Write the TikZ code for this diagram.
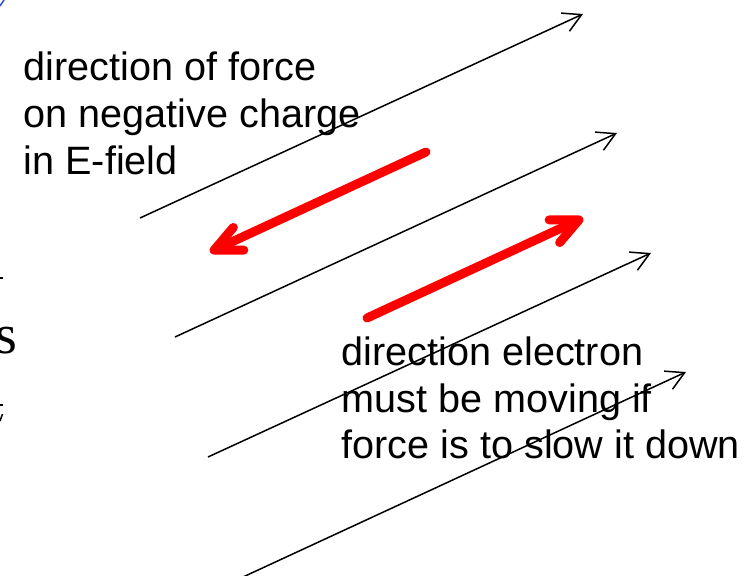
\documentclass[tikz,border=0pt]{standalone}
\usepackage{fontspec}
\setmainfont{Liberation Sans}
\newfontfamily\serifpart{Liberation Serif}
\usetikzlibrary{arrows.meta}
\definecolor{fieldred}{RGB}{255,0,0}
\definecolor{cornerblue}{RGB}{40,70,220}
\tikzset{
  fieldline/.style={line width=1.5pt, black, -{Straight Barb[length=18pt,width=20pt]}},
  forcearrow/.style={line width=9pt, fieldred, line cap=round, -{Straight Barb[length=27pt,width=25pt,round]}},
  label/.style={inner sep=0pt, anchor=base west, font=\fontsize{39.6}{47}\selectfont},
  fragment/.style={line width=1.5pt, black}
}
\begin{document}
\begin{tikzpicture}[x=1pt,y=-1pt]
\useasboundingbox (0,0) rectangle (756,576);
\fill[white] (0,0) rectangle (756,576);

% field lines
\coordinate (f1s) at (140,218); \coordinate (f1e) at (583,14);
\coordinate (f2s) at (175,337); \coordinate (f2e) at (617,133);
\coordinate (f3s) at (208,457); \coordinate (f3e) at (651,253);
\coordinate (f4s) at (243,577); \coordinate (f4e) at (686,372);
\draw[fieldline] (f1s) -- (f1e);
\draw[fieldline] (f2s) -- (f2e);
\draw[fieldline] (f3s) -- (f3e);
\draw[fieldline] (f4s) -- (f4e);

% red arrows
\coordinate (r1s) at (426,152); \coordinate (r1e) at (210,252);
\coordinate (r2s) at (367,318); \coordinate (r2e) at (583,218);
\draw[forcearrow] (r1s) -- (r1e);
\draw[forcearrow] (r2s) -- (r2e);

% labels
\node[label] (a1) at (23.5,80) {direction of force};
\node[label] (a2) at (23.5,127) {on negative charge};
\node[label] (a3) at (23.5,174) {in E-field};
\node[label] (b1) at (341.5,365) {direction electron};
\node[label] (b2) at (341.5,412) {must be moving if};
\node[label] (b3) at (341.5,458) {force is to slow it down};

% cut-off fragments at the left edge
\node[inner sep=0pt, anchor=base west, font=\serifpart\fontsize{56}{60}\selectfont] (s) at (-5,353) {s};
\draw[fragment] (0,278) -- (3,278);
\draw[fragment] (0,405) -- (3,405);
\draw[fragment] (0,421) -- (2.5,414);
\draw[line width=1.5pt, cornerblue] (0,6) -- (4,0);
\end{tikzpicture}
\end{document}
